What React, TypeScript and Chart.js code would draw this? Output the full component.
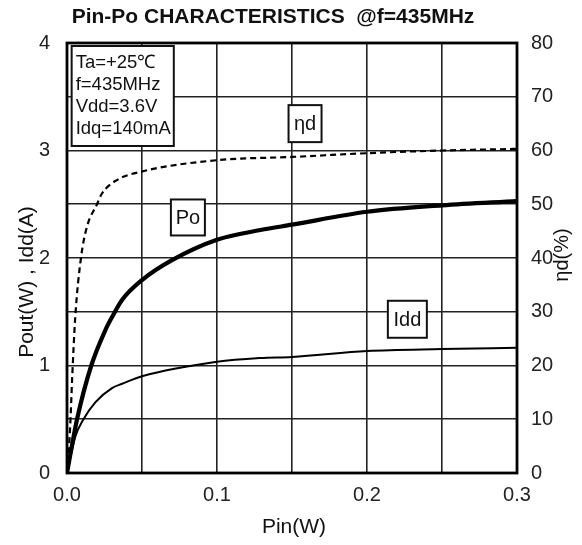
import React, { useEffect, useRef } from 'react';
import { Chart, registerables } from 'chart.js';

Chart.register(...registerables);

// ---- data ----
const titleText = 'Pin-Po CHARACTERISTICS  @f=435MHz';
const xTitle = 'Pin(W)';
const yLeftTitle = 'Pout(W) , Idd(A)';
const yRightTitle = 'ηd(%)';

const poPin = [0, 0.0067, 0.0162, 0.0256, 0.03, 0.0367, 0.05, 0.07, 0.1, 0.129, 0.15, 0.2, 0.25, 0.3];
const poOut = [0, 0.5, 1.0, 1.33, 1.45, 1.61, 1.795, 1.98, 2.17, 2.26, 2.31, 2.43, 2.49, 2.53];

const iddPin = [0, 0.0056, 0.011, 0.019, 0.03, 0.0367, 0.05, 0.1, 0.129, 0.15, 0.2, 0.25, 0.3];
const iddA = [0, 0.34, 0.5, 0.66, 0.79, 0.83, 0.9, 1.035, 1.07, 1.08, 1.135, 1.153, 1.165];

const etaPin = [0, 0.002, 0.0035, 0.0055, 0.0093, 0.0133, 0.02, 0.0233, 0.0333, 0.05, 0.1, 0.15, 0.2, 0.25, 0.3];
const etaPct = [0, 8, 18, 29, 40, 45.8, 50, 52, 54.5, 56.1, 58.2, 58.8, 59.5, 60.0, 60.3];

const xTickLabels = ['0.0', '0.1', '0.2', '0.3'];
const infoLines = ['Ta=+25℃', 'f=435MHz', 'Vdd=3.6V', 'Idq=140mA'];
const curveLabels = ['ηd', 'Po', 'Idd'];

const FONT = "'Liberation Sans', Arial, sans-serif";

const overlay = {
  id: 'overlay',
  afterDatasetsDraw(chart: any) {
    const { ctx, chartArea: a, scales } = chart;
    const sx = scales.x;
    const sy = scales.y;
    ctx.save();

    // info box
    const bx1 = sx.getPixelForValue(0.0031), bx2 = sx.getPixelForValue(0.0712);
    const by1 = sy.getPixelForValue(3.972), by2 = sy.getPixelForValue(3.042);
    ctx.fillStyle = '#fff';
    ctx.fillRect(bx1, by1, bx2 - bx1, by2 - by1);
    ctx.strokeStyle = '#111';
    ctx.lineWidth = 2;
    ctx.strokeRect(bx1, by1, bx2 - bx1, by2 - by1);
    ctx.fillStyle = '#111';
    ctx.font = `18.5px ${FONT}`;
    ctx.textAlign = 'left';
    ctx.textBaseline = 'middle';
    infoLines.forEach((t, i) => ctx.fillText(t, bx1 + 4, by1 + 17 + i * 21.8));

    // curve label boxes
    const pos = [
      [0.1587, 3.25, 33, 37],
      [0.0806, 2.377, 34, 36],
      [0.2269, 1.43, 39, 37],
    ];
    ctx.font = `20px ${FONT}`;
    ctx.textAlign = 'center';
    curveLabels.forEach((t, i) => {
      const cx = sx.getPixelForValue(pos[i][0]);
      const cy = sy.getPixelForValue(pos[i][1]);
      const w = pos[i][2], h = pos[i][3];
      ctx.fillStyle = '#fff';
      ctx.fillRect(cx - w / 2, cy - h / 2, w, h);
      ctx.strokeStyle = '#111';
      ctx.lineWidth = 2;
      ctx.strokeRect(cx - w / 2, cy - h / 2, w, h);
      ctx.fillStyle = '#111';
      ctx.fillText(t, cx, cy + 1);
    });

    // frame
    ctx.strokeStyle = '#000';
    ctx.lineWidth = 2.8;
    ctx.strokeRect(a.left, a.top, a.right - a.left, a.bottom - a.top);

    // title
    ctx.fillStyle = '#111';
    ctx.font = `bold 21px ${FONT}`;
    ctx.textAlign = 'center';
    ctx.textBaseline = 'middle';
    ctx.fillText(titleText, 273, 17);

    // x title
    ctx.font = `21px ${FONT}`;
    ctx.fillText(xTitle, 294, 527);

    // left y title
    ctx.save();
    ctx.translate(27, 282);
    ctx.rotate(-Math.PI / 2);
    ctx.fillText(yLeftTitle, 0, 0);
    ctx.restore();

    // right y title
    ctx.save();
    ctx.translate(562, 255);
    ctx.rotate(-Math.PI / 2);
    ctx.font = `20px ${FONT}`;
    ctx.fillText(yRightTitle, 0, 0);
    ctx.restore();

    ctx.restore();
  },
};

export default function App() {
  const ref = useRef<HTMLCanvasElement | null>(null);

  useEffect(() => {
    if (!ref.current) return;
    const toPts = (xs: number[], ys: number[]) => xs.map((x, i) => ({ x, y: ys[i] }));
    const chart = new Chart(ref.current, {
      type: 'line',
      data: {
        datasets: [
          {
            label: 'Po',
            data: toPts(poPin, poOut),
            yAxisID: 'y',
            borderColor: '#000',
            borderWidth: 4.2,
            pointRadius: 0,
            cubicInterpolationMode: 'monotone',
          },
          {
            label: 'Idd',
            data: toPts(iddPin, iddA),
            yAxisID: 'y',
            borderColor: '#000',
            borderWidth: 2,
            pointRadius: 0,
            cubicInterpolationMode: 'monotone',
          },
          {
            label: 'ηd',
            data: toPts(etaPin, etaPct),
            yAxisID: 'y2',
            borderColor: '#000',
            borderWidth: 2.2,
            borderDash: [6, 4],
            pointRadius: 0,
            cubicInterpolationMode: 'monotone',
          },
        ],
      },
      options: {
        animation: false,
        responsive: false,
        devicePixelRatio: 1,
        layout: { padding: { top: 43, left: 0, right: 0, bottom: 0 } },
        plugins: { legend: { display: false }, tooltip: { enabled: false }, title: { display: false } },
        scales: {
          x: {
            type: 'linear',
            min: 0,
            max: 0.3,
            afterFit: (s: any) => { s.height = 72; },
            afterBuildTicks: (s: any) => {
              s.ticks = [0, 0.05, 0.1, 0.15, 0.2, 0.25, 0.3].map((v) => ({ value: v }));
            },
            ticks: {
              padding: 10,
              color: '#222',
              font: { family: FONT, size: 20 },
              maxRotation: 0,
              autoSkip: false,
              callback: (v: any) => {
                const k = Math.round(Number(v) * 100);
                return k % 10 === 0 ? xTickLabels[k / 10] : '';
              },
            },
            grid: { color: '#222', lineWidth: 1.6, drawTicks: false },
            border: { display: false },
          },
          y: {
            position: 'left',
            min: 0,
            max: 4,
            afterFit: (s: any) => { s.width = 67; },
            ticks: {
              stepSize: 1,
              padding: 17,
              color: '#222',
              font: { family: FONT, size: 20 },
            },
            grid: { display: false, drawTicks: false },
            border: { display: false },
          },
          y2: {
            position: 'right',
            min: 0,
            max: 80,
            afterFit: (s: any) => { s.width = 65; },
            ticks: {
              stepSize: 10,
              padding: 14,
              color: '#222',
              font: { family: FONT, size: 20 },
            },
            grid: { color: '#222', lineWidth: 1.6, drawTicks: false },
            border: { display: false },
          },
        },
      },
      plugins: [overlay],
    } as any);
    return () => chart.destroy();
  }, []);

  return (
    <div style={{ position: 'fixed', left: 0, top: 0, width: 582, height: 545, background: '#fff' }}>
      <canvas ref={ref} width={582} height={545} style={{ width: 582, height: 545, display: 'block' }} />
    </div>
  );
}
